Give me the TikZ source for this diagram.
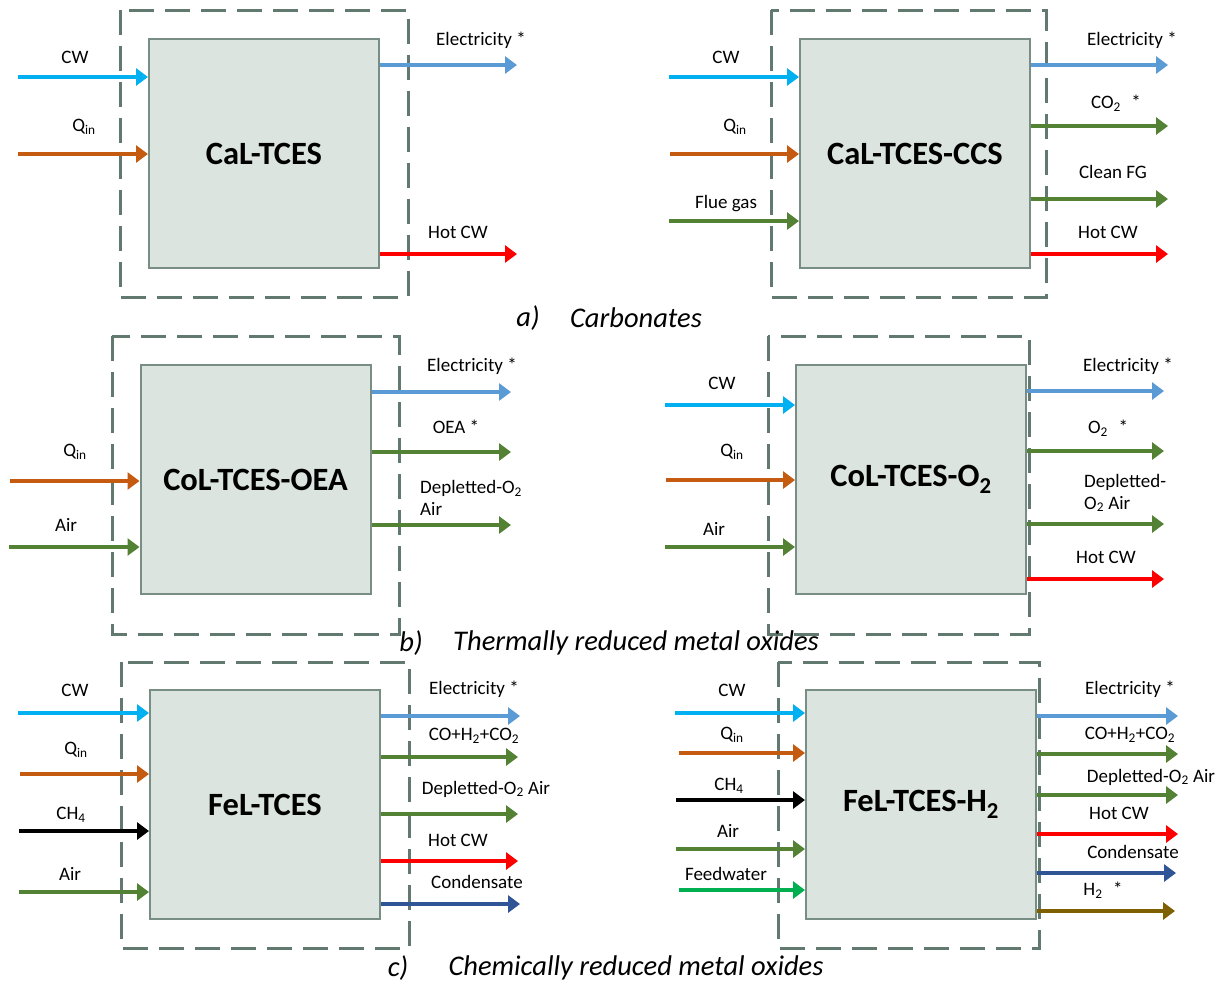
\documentclass[tikz,border=0pt]{standalone}
\usepackage{fontspec}
\setmainfont{Carlito}
\usetikzlibrary{arrows.meta}
\definecolor{cwc}{HTML}{00B0F0}
\definecolor{qinc}{HTML}{C55A11}
\definecolor{elc}{HTML}{5B9BD5}
\definecolor{hotc}{HTML}{FF0000}
\definecolor{grc}{HTML}{548235}
\definecolor{conc}{HTML}{2F5597}
\definecolor{fwc}{HTML}{00B050}
\definecolor{htwoc}{HTML}{7F6000}
\definecolor{dashc}{HTML}{62796F}
\definecolor{boxfill}{HTML}{DCE4E0}
\definecolor{boxline}{HTML}{788E85}
\newcommand\sub[1]{\textsubscript{#1}}
\tikzset{
  flow/.style={line width=3.5pt,-{Triangle[length=12pt,width=17pt]}},
  envelope/.style={draw=dashc,line width=3pt,dash pattern=on 25pt off 11pt},
  unit/.style={draw=boxline,fill=boxfill,line width=2pt,minimum width=230pt,minimum height=229pt,inner sep=0pt,font=\fontsize{32.5}{36}\selectfont\bfseries},
  lbl/.style={font=\fontsize{19}{22}\selectfont,inner sep=0pt},
  captxt/.style={font=\fontsize{28.5}{32}\selectfont\itshape,inner sep=0pt}
}
\begin{document}
\begin{tikzpicture}[x=1pt,y=-1pt]
\useasboundingbox (0,0) rectangle (1220,983);
% ================= a) left
\draw[envelope] (120,10) rectangle (408,297);
\node[unit] (aL) at (264,153.5) {CaL-TCES};
\coordinate (aLcw) at (18,77);   \draw[flow,cwc] (aLcw) -- (aLcw -| aL.west);
\coordinate (aLq) at (18,154);   \draw[flow,qinc] (aLq) -- (aLq -| aL.west);
\coordinate (aLel) at (517,65);  \draw[flow,elc] (aLel -| aL.east) -- (aLel);
\coordinate (aLhot) at (517,254);\draw[flow,hotc] (aLhot -| aL.east) -- (aLhot);
\node[lbl] (aLt1) at (75,57) {CW};
\node[lbl] (aLt2) at (84,127) {Q\sub{in}};
\node[lbl] (aLt3) at (481,40) {Electricity *};
\node[lbl] (aLt4) at (458,232) {Hot CW};
% ================= a) right
\draw[envelope] (771,10) rectangle (1046,297);
\node[unit] (aR) at (915,153.5) {CaL-TCES-CCS};
\coordinate (aRcw) at (669,77);  \draw[flow,cwc] (aRcw) -- (aRcw -| aR.west);
\coordinate (aRq) at (670,154);  \draw[flow,qinc] (aRq) -- (aRq -| aR.west);
\coordinate (aRfg) at (669,221); \draw[flow,grc] (aRfg) -- (aRfg -| aR.west);
\coordinate (aRel) at (1168,65); \draw[flow,elc] (aRel -| aR.east) -- (aRel);
\coordinate (aRco) at (1168,126);\draw[flow,grc] (aRco -| aR.east) -- (aRco);
\coordinate (aRcl) at (1168,199);\draw[flow,grc] (aRcl -| aR.east) -- (aRcl);
\coordinate (aRhot) at (1168,254);\draw[flow,hotc] (aRhot -| aR.east) -- (aRhot);
\node[lbl] (aRt1) at (726,57) {CW};
\node[lbl] (aRt2) at (735,127) {Q\sub{in}};
\node[lbl] (aRt3) at (726,204) {Flue gas};
\node[lbl] (aRt4) at (1132,40) {Electricity *};
\node[lbl] (aRt5) at (1116,103) {CO\sub{2}\,\, *};
\node[lbl] (aRt6) at (1113,172) {Clean FG};
\node[lbl] (aRt7) at (1108,232) {Hot CW};
\node[captxt] (capa1) at (528,318) {a)};
\node[captxt] (capa2) at (636,318) {Carbonates};
% ================= b) left
\draw[envelope] (112,336) rectangle (399,634);
\node[unit] (bL) at (255.5,479.5) {CoL-TCES-OEA};
\coordinate (bLq) at (10,481);   \draw[flow,qinc] (bLq) -- (bLq -| bL.west);
\coordinate (bLair) at (9,547);  \draw[flow,grc] (bLair) -- (bLair -| bL.west);
\coordinate (bLel) at (511,392); \draw[flow,elc] (bLel -| bL.east) -- (bLel);
\coordinate (bLoea) at (511,452);\draw[flow,grc] (bLoea -| bL.east) -- (bLoea);
\coordinate (bLdep) at (511,525);\draw[flow,grc] (bLdep -| bL.east) -- (bLdep);
\node[lbl] (bLt1) at (75,452) {Q\sub{in}};
\node[lbl] (bLt2) at (66,525) {Air};
\node[lbl] (bLt3) at (472,366) {Electricity *};
\node[lbl] (bLt4) at (456,427) {OEA *};
\node[lbl,anchor=west,align=left] (bLt5) at (420,498) {Depletted-O\sub{2}\\Air};
% ================= b) right
\draw[envelope] (768,336) rectangle (1029,634);
\node[unit] (bR) at (911,479.5) {CoL-TCES-O\sub{2}};
\coordinate (bRcw) at (665,405);  \draw[flow,cwc] (bRcw) -- (bRcw -| bR.west);
\coordinate (bRq) at (666,480);   \draw[flow,qinc] (bRq) -- (bRq -| bR.west);
\coordinate (bRair) at (665,547); \draw[flow,grc] (bRair) -- (bRair -| bR.west);
\coordinate (bRel) at (1164,391); \draw[flow,elc] (bRel -| bR.east) -- (bRel);
\coordinate (bRo) at (1164,451);  \draw[flow,grc] (bRo -| bR.east) -- (bRo);
\coordinate (bRdep) at (1164,524);\draw[flow,grc] (bRdep -| bR.east) -- (bRdep);
\coordinate (bRhot) at (1164,579);\draw[flow,hotc] (bRhot -| bR.east) -- (bRhot);
\node[lbl] (bRt1) at (722,383) {CW};
\node[lbl] (bRt2) at (732,452) {Q\sub{in}};
\node[lbl] (bRt3) at (714,529) {Air};
\node[lbl] (bRt4) at (1128,366) {Electricity *};
\node[lbl] (bRt5) at (1108,428) {O\sub{2}\,\, *};
\node[lbl,anchor=west,align=left] (bRt6) at (1084,493) {Depletted-\\O\sub{2} Air};
\node[lbl] (bRt7) at (1106,557) {Hot CW};
\node[captxt] (capb1) at (411,643) {b)};
\node[captxt] (capb2) at (636,643) {Thermally reduced metal oxides};
% ================= c) left
\draw[envelope] (121,662) rectangle (409,948);
\node[unit] (cL) at (265,804.5) {FeL-TCES};
\coordinate (cLcw) at (18,713);  \draw[flow,cwc] (cLcw) -- (cLcw -| cL.west);
\coordinate (cLq) at (20,774);   \draw[flow,qinc] (cLq) -- (cLq -| cL.west);
\coordinate (cLch) at (19,831);  \draw[flow,black] (cLch) -- (cLch -| cL.west);
\coordinate (cLair) at (19,892); \draw[flow,grc] (cLair) -- (cLair -| cL.west);
\coordinate (cLel) at (520,716); \draw[flow,elc] (cLel -| cL.east) -- (cLel);
\coordinate (cLco) at (518,757); \draw[flow,grc] (cLco -| cL.east) -- (cLco);
\coordinate (cLdep) at (518,814);\draw[flow,grc] (cLdep -| cL.east) -- (cLdep);
\coordinate (cLhot) at (518,861);\draw[flow,hotc] (cLhot -| cL.east) -- (cLhot);
\coordinate (cLcon) at (520,904);\draw[flow,conc] (cLcon -| cL.east) -- (cLcon);
\node[lbl] (cLt1) at (75,690) {CW};
\node[lbl] (cLt2) at (76,750) {Q\sub{in}};
\node[lbl] (cLt3) at (71,815) {CH\sub{4}};
\node[lbl] (cLt4) at (70,874) {Air};
\node[lbl] (cLt5) at (474,689) {Electricity *};
\node[lbl] (cLt6) at (474,736) {CO+H\sub{2}+CO\sub{2}};
\node[lbl] (cLt7) at (486,789) {Depletted-O\sub{2} Air};
\node[lbl] (cLt8) at (458,840) {Hot CW};
\node[lbl] (cLt9) at (477,882) {Condensate};
% ================= c) right
\draw[envelope] (778,662) rectangle (1039,948);
\node[unit] (cR) at (921,804.5) {FeL-TCES-H\sub{2}};
\coordinate (cRcw) at (675,713);  \draw[flow,cwc] (cRcw) -- (cRcw -| cR.west);
\coordinate (cRq) at (679,753);   \draw[flow,qinc] (cRq) -- (cRq -| cR.west);
\coordinate (cRch) at (676,800);  \draw[flow,black] (cRch) -- (cRch -| cR.west);
\coordinate (cRair) at (676,849); \draw[flow,grc] (cRair) -- (cRair -| cR.west);
\coordinate (cRfw) at (679,890);  \draw[flow,fwc] (cRfw) -- (cRfw -| cR.west);
\coordinate (cRel) at (1178,716); \draw[flow,elc] (cRel -| cR.east) -- (cRel);
\coordinate (cRco) at (1178,754); \draw[flow,grc] (cRco -| cR.east) -- (cRco);
\coordinate (cRdep) at (1178,795);\draw[flow,grc] (cRdep -| cR.east) -- (cRdep);
\coordinate (cRhot) at (1178,834);\draw[flow,hotc] (cRhot -| cR.east) -- (cRhot);
\coordinate (cRcon) at (1176,873);\draw[flow,conc] (cRcon -| cR.east) -- (cRcon);
\coordinate (cRh) at (1175,911);  \draw[flow,htwoc] (cRh -| cR.east) -- (cRh);
\node[lbl] (cRt1) at (732,690) {CW};
\node[lbl] (cRt2) at (732,735) {Q\sub{in}};
\node[lbl] (cRt3) at (729,786) {CH\sub{4}};
\node[lbl] (cRt4) at (728,831) {Air};
\node[lbl] (cRt5) at (726,874) {Feedwater};
\node[lbl] (cRt6) at (1130,689) {Electricity *};
\node[lbl] (cRt7) at (1130,735) {CO+H\sub{2}+CO\sub{2}};
\node[lbl] (cRt8) at (1151,777) {Depletted-O\sub{2} Air};
\node[lbl] (cRt9) at (1119,813) {Hot CW};
\node[lbl] (cRt10) at (1133,852) {Condensate};
\node[lbl] (cRt11) at (1103,890) {H\sub{2}\,\, *};
\node[captxt] (capc1) at (398,968) {c)};
\node[captxt] (capc2) at (636,968) {Chemically reduced metal oxides};
\end{tikzpicture}
\end{document}
